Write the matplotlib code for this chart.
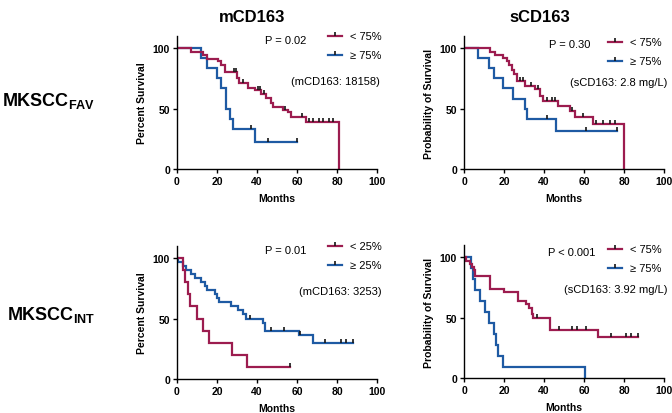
import numpy as np
import matplotlib
matplotlib.use('Agg')
import matplotlib.pyplot as plt

plt.rcParams['font.family'] = ['Liberation Sans', 'DejaVu Sans']
plt.rcParams['mathtext.fontset'] = 'custom'
plt.rcParams['mathtext.rm'] = 'Liberation Sans'
plt.rcParams['mathtext.bf'] = 'Liberation Sans:bold'

MAROON = '#9C1C4F'
BLUE = '#1E5AA3'

# ---- mCD163, MKSCC FAV ----
fav_m_lo_t = [0, 7, 13, 15, 20.5, 22, 24, 30, 31, 35.5, 39, 42, 44.5, 47, 48, 53, 55.5, 57, 64.5, 81]
fav_m_lo_s = [100, 97, 94, 91, 89, 86, 80, 75, 71, 67, 65, 62, 59, 55, 51, 49, 47, 43, 38.5, 0]
fav_m_lo_end = 81
fav_m_lo_cens = [28.5, 29.5, 33, 40.5, 41.5, 43.5, 54, 62.5, 66, 68, 71, 73, 76, 78]

fav_m_hi_t = [0, 12, 15, 20, 22, 24.5, 26.5, 28, 39]
fav_m_hi_s = [100, 91.7, 83.3, 75, 66.7, 50, 41.7, 33.3, 22.2]
fav_m_hi_end = 60
fav_m_hi_cens = [37, 45.5, 60]

# ---- sCD163, MKSCC FAV ----
fav_s_lo_t = [0, 13, 15.5, 19.5, 21.5, 22.5, 24, 25, 26.5, 30.5, 35.5, 38, 39.5, 47, 53, 55.5, 64.5, 80]
fav_s_lo_s = [100, 97, 94.5, 92, 89.5, 86, 82, 78.5, 73, 69, 66, 60.5, 56.5, 52.3, 48.2, 42.7, 37.2, 0]
fav_s_lo_end = 80
fav_s_lo_cens = [28, 29.3, 33.3, 37.2, 41.7, 43.8, 45.5, 53.8, 59.7, 66, 69.3, 73, 75.5]

fav_s_hi_t = [0, 7, 12.5, 15, 19.5, 24.5, 30.5, 31.5, 46]
fav_s_hi_s = [100, 91.7, 83.3, 75, 66.7, 58.3, 50, 41.7, 31.3]
fav_s_hi_end = 76.5
fav_s_hi_cens = [41.5, 61, 76.5]

# ---- mCD163, MKSCC INT ----
int_m_lo_t = [0, 3, 4, 5.5, 6.5, 10, 13, 16, 27.5, 35]
int_m_lo_s = [100, 90, 80, 70, 60, 50, 40, 30, 20, 10]
int_m_lo_end = 56.5
int_m_lo_cens = [56.5]

int_m_hi_t = [0, 0.5, 3, 4.5, 7, 9, 12, 14, 15, 19, 20, 21, 27, 30.5, 33, 34.5, 43, 44, 61, 68]
int_m_hi_s = [100, 97, 93.5, 90, 87, 83.5, 80, 77, 73.5, 70, 67, 63.5, 60, 57, 53.5, 50, 46.5, 40, 36, 30]
int_m_hi_end = 88
int_m_hi_cens = [36.5, 47, 53.5, 61.5, 74, 82, 84.5, 88]

# ---- sCD163, MKSCC INT ----
int_s_lo_t = [0, 1, 3, 4, 5, 5.5, 13, 20.2, 27.2, 31, 32.7, 33.8, 34.7, 43, 67.2]
int_s_lo_s = [100, 97, 94.5, 92, 89.5, 84, 73.6, 70.8, 63.9, 61, 57.5, 53.3, 50, 40, 34]
int_s_lo_end = 87.2
int_s_lo_cens = [36.3, 47.3, 54, 56.7, 61.2, 73.3, 80.8, 83.3, 87.2]

int_s_hi_t = [0, 3.5, 4.5, 5.5, 8, 10.5, 12.5, 15, 16, 17, 19.5, 60.5]
int_s_hi_s = [100, 91, 82, 73, 64, 55, 45.5, 36, 27, 18, 9, 0]
int_s_hi_end = 60.5
int_s_hi_cens = []

p_texts = ['P = 0.02', 'P = 0.30', 'P = 0.01', 'P < 0.001']
cut_texts = ['(mCD163: 18158)', '(sCD163: 2.8 mg/L)', '(mCD163: 3253)', '(sCD163: 3.92 mg/L)']
legend_labels = [['< 75%', '≥ 75%'], ['< 75%', '≥ 75%'], ['< 25%', '≥ 25%'], ['< 75%', '≥ 75%']]
y_labels = ['Percent Survival', 'Probability of Survival', 'Percent Survival', 'Probability of Survival']
col_titles = ['mCD163', 'sCD163']
x_ticks = [0, 20, 40, 60, 80, 100]
y_ticks = [0, 50, 100]


def draw_km(ax, t, s, end, cens, color):
    """step curve plus censor ticks"""
    t = np.asarray(t, float)
    s = np.asarray(s, float)
    xs = np.append(t, end)
    ys = np.append(s, s[-1])
    ax.step(xs, ys, where='post', color=color, lw=1.6, solid_joinstyle='miter')
    if len(cens):
        c = np.asarray(cens, float)
        idx = np.searchsorted(t, c, side='right') - 1
        ax.plot(c, s[idx], ls='none', marker=2, ms=3.2, mew=1.2, color='#151515')


def style_axes(ax, ylab):
    ax.set_xlim(0, 100)
    ax.set_ylim(0, 110)
    ax.spines['top'].set_visible(False)
    ax.spines['right'].set_visible(False)
    for sp in ['left', 'bottom']:
        ax.spines[sp].set_linewidth(1.0)
    ax.set_xticks(x_ticks)
    ax.set_yticks(y_ticks)
    ax.tick_params(direction='out', length=3, width=1.0, labelsize=7.5, pad=2)
    for lab in ax.get_xticklabels() + ax.get_yticklabels():
        lab.set_fontweight('bold')
    ax.set_xlabel('Months', fontsize=7.5, fontweight='bold', labelpad=5)
    ax.set_ylabel(ylab, fontsize=7.5, fontweight='bold', labelpad=4)


def draw_legend(ax, x0, y0, dy, labels):
    """hand drawn legend: line with a censor tick"""
    for i, (lab, col) in enumerate(zip(labels, [MAROON, BLUE])):
        y = y0 - i * dy
        ax.plot([x0, x0 + 0.07], [y, y], color=col, lw=1.6, transform=ax.transAxes, clip_on=False)
        ax.plot([x0 + 0.035], [y], marker=2, ms=3.2, mew=1.2, color='#151515',
                transform=ax.transAxes, clip_on=False)
        ax.text(x0 + 0.11, y, lab, fontsize=8, va='center', ha='left', transform=ax.transAxes)


fig = plt.figure(figsize=(6.72, 4.14), dpi=100)


def px_axes(left, top, w=200, h=133):
    return fig.add_axes([left / 672, (414 - top - h) / 414, w / 672, h / 414])


axes = [px_axes(177, 37), px_axes(464, 37), px_axes(177, 247), px_axes(464, 246)]

curves = [
    [(fav_m_hi_t, fav_m_hi_s, fav_m_hi_end, fav_m_hi_cens), (fav_m_lo_t, fav_m_lo_s, fav_m_lo_end, fav_m_lo_cens)],
    [(fav_s_hi_t, fav_s_hi_s, fav_s_hi_end, fav_s_hi_cens), (fav_s_lo_t, fav_s_lo_s, fav_s_lo_end, fav_s_lo_cens)],
    [(int_m_hi_t, int_m_hi_s, int_m_hi_end, int_m_hi_cens), (int_m_lo_t, int_m_lo_s, int_m_lo_end, int_m_lo_cens)],
    [(int_s_hi_t, int_s_hi_s, int_s_hi_end, int_s_hi_cens), (int_s_lo_t, int_s_lo_s, int_s_lo_end, int_s_lo_cens)],
]

# text positions in axes coords
p_pos = [(0.44, 0.97), (0.425, 0.94), (0.44, 0.97), (0.42, 0.947)]
cut_pos = [(1.015, 0.66), (1.015, 0.654), (1.025, 0.66), (1.015, 0.67)]
leg_pos = [(0.755, 1.0), (0.72, 0.955), (0.755, 1.0), (0.72, 0.97)]

for i, ax in enumerate(axes):
    hi, lo = curves[i]
    draw_km(ax, *hi, BLUE)
    draw_km(ax, *lo, MAROON)
    style_axes(ax, y_labels[i])
    ax.text(*p_pos[i], p_texts[i], fontsize=8, ha='left', va='center', transform=ax.transAxes)
    ax.text(*cut_pos[i], cut_texts[i], fontsize=8, ha='right', va='center', transform=ax.transAxes)
    draw_legend(ax, leg_pos[i][0], leg_pos[i][1], 0.14, legend_labels[i])

# column titles and row labels
fig.text(252 / 672, 1 - 18 / 414, col_titles[0], fontsize=12, fontweight='bold', ha='center', va='center')
fig.text(540 / 672, 1 - 18 / 414, col_titles[1], fontsize=12, fontweight='bold', ha='center', va='center')
fig.text(49 / 672, 1 - 106 / 414, r'$\mathbf{MKSCC}_{\mathbf{FAV}}$', fontsize=13, ha='center', va='baseline')
fig.text(51 / 672, 1 - 320 / 414, r'$\mathbf{MKSCC}_{\mathbf{INT}}$', fontsize=13, ha='center', va='baseline')

fig.savefig('out.png', dpi=100)
